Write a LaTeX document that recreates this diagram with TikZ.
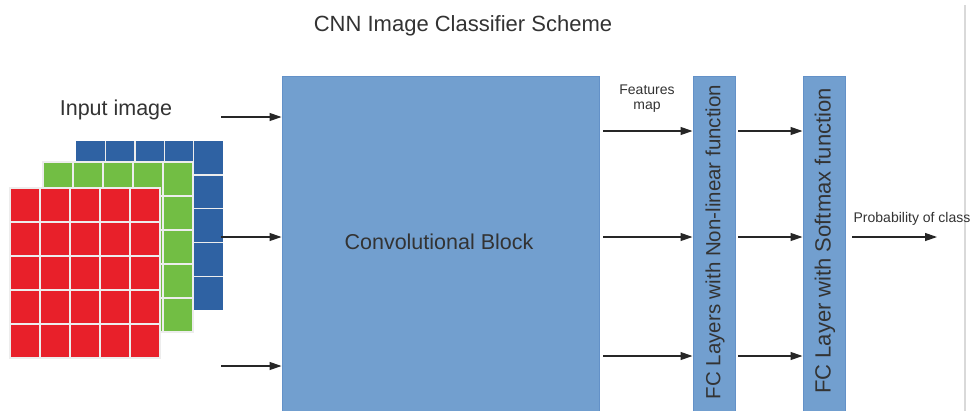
\documentclass[tikz,border=0pt]{standalone}
\usepackage{fontspec}
\setmainfont{Liberation Sans}
\usetikzlibrary{arrows.meta}
\definecolor{boxblue}{HTML}{729FCF}
\definecolor{boxedge}{HTML}{6391C8}
\definecolor{gridred}{HTML}{E8202A}
\definecolor{gridgreen}{HTML}{72BE44}
\definecolor{gridblue}{HTML}{2F62A3}
\definecolor{txt}{HTML}{333333}
\tikzset{
  blockbox/.style={draw=boxedge, line width=1pt, fill=boxblue, inner sep=0pt, rectangle},
  arr/.style={draw=black!85, line width=1.2pt, -{Triangle[length=12pt,width=8pt]}},
  gridline/.style={draw=white!93!black, line width=1.4pt},
  lbl/.style={text=txt, inner sep=0pt, align=center}
}
\begin{document}
\begin{tikzpicture}[x=1pt,y=-1pt]
\useasboundingbox (0,0) rectangle (974,410);
\fill[white] (0,0) rectangle (974,410);
% right gray border line
\draw[draw=black!15, line width=1.5pt] (965,5) -- (965,412);
% title
\node[lbl, font=\fontsize{22}{26}\selectfont] (title) at (463,26) {CNN Image Classifier Scheme};
\node[lbl, font=\fontsize{21.5}{25}\selectfont] (input) at (116,110) {Input image};
% image grids: blue, green, red
\fill[gridblue] (76,141) rectangle (223,310);
\foreach \i in {1,...,4} {
  \draw[gridline] ({76+\i*29.4},141) -- ({76+\i*29.4},310);
  \draw[gridline] (76,{141+\i*33.8}) -- (223,{141+\i*33.8});
}
\fill[gridgreen] (43,162) rectangle (193,332);
\foreach \i in {1,...,4} {
  \draw[gridline] ({43+\i*30},162) -- ({43+\i*30},332);
  \draw[gridline] (43,{162+\i*34}) -- (193,{162+\i*34});
}
\draw[gridline] (43,162) rectangle (193,332);
\fill[gridred] (10,188) rectangle (160,358);
\foreach \i in {1,...,4} {
  \draw[gridline] ({10+\i*30},188) -- ({10+\i*30},358);
  \draw[gridline] (10,{188+\i*34}) -- (160,{188+\i*34});
}
\draw[gridline] (10,188) rectangle (160,358);
% blocks
\node[blockbox, minimum width=317pt, minimum height=335pt] (conv) at (440.5,243.5) {};
\node[lbl, font=\fontsize{21.5}{25}\selectfont] (convtext) at (439,242) {Convolutional Block};
\node[blockbox, minimum width=42pt, minimum height=335pt] (fc1) at (714,243.5) {};
\node[lbl, rotate=90, font=\fontsize{20.5}{24}\selectfont] (fc1text) at (715,242) {FC Layers with Non-linear function};
\node[blockbox, minimum width=42pt, minimum height=335pt] (fc2) at (824,243.5) {};
\node[lbl, rotate=90, font=\fontsize{22}{26}\selectfont] (fc2text) at (825,241) {FC Layer with Softmax function};
% labels
\node[lbl, font=\fontsize{14}{15}\selectfont] (feat) at (647,99) {Features\\map};
\node[lbl, font=\fontsize{14}{16}\selectfont] (prob) at (912,219) {Probability of class};
% input arrows
\coordinate (in1) at (221,117);
\coordinate (in2) at (221,237);
\coordinate (in3) at (221,366);
\foreach \c in {in1,in2,in3} \draw[arr] (\c) -- (\c -| conv.west);
% conv -> fc1
\coordinate (a1) at (603,131);
\coordinate (a2) at (603,237);
\coordinate (a3) at (603,356);
\foreach \c in {a1,a2,a3} \draw[arr] (\c) -- (\c -| fc1.west);
% fc1 -> fc2
\coordinate (b1) at (738,131);
\coordinate (b2) at (738,237);
\coordinate (b3) at (738,356);
\foreach \c in {b1,b2,b3} \draw[arr] (\c) -- (\c -| fc2.west);
% output
\coordinate (o1) at (852,237);
\coordinate (o2) at (937,237);
\draw[arr] (o1) -- (o2);
\end{tikzpicture}
\end{document}
